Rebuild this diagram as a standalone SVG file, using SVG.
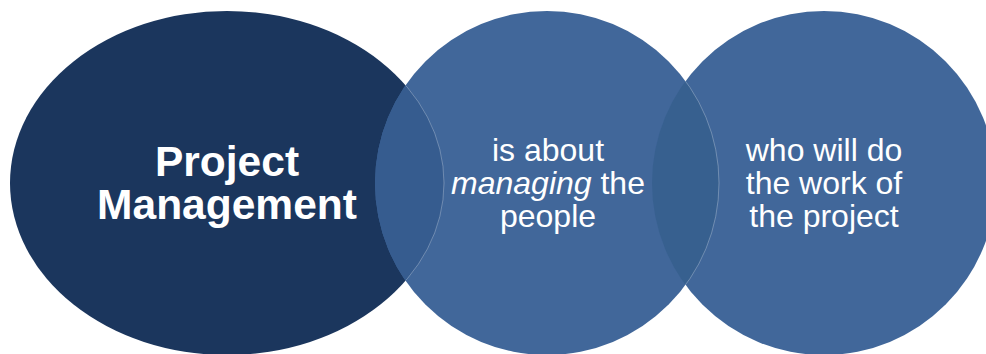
<svg xmlns="http://www.w3.org/2000/svg" width="986" height="354" viewBox="0 0 986 354">
<defs>
<style>
.t{font-family:"Liberation Sans",Arial,sans-serif;fill:#FFFFFF;text-anchor:middle}
.b{font-weight:bold;font-size:42.5px}
.r{font-size:32px}
.c{fill:#41679A}
.edge{fill:none;stroke:#FFFFFF;stroke-opacity:0.35;stroke-width:0.8}
</style>
<clipPath id="clipLeft"><ellipse cx="227" cy="183" rx="217" ry="172"/></clipPath>
<clipPath id="clipMid"><circle cx="547" cy="183" r="172"/></clipPath>
<clipPath id="clipRight"><circle cx="824" cy="183" r="172"/></clipPath>
</defs>
<rect width="986" height="354" fill="#FFFFFF"/>
<g id="node-project-management">
<ellipse cx="227" cy="183" rx="217" ry="172" fill="#1B365D"/>
<text class="t b" x="227" y="176">Project</text>
<text class="t b" x="227" y="219">Management</text>
</g>
<g id="node-managing-people">
<circle class="c" cx="547" cy="183" r="172"/>
<circle cx="547" cy="183" r="172" fill="#365C8F" clip-path="url(#clipLeft)"/>
<ellipse class="edge" cx="227" cy="183" rx="217" ry="172" clip-path="url(#clipMid)"/>
<text class="t r" x="548" y="161">is about</text>
<text class="t r" x="548" y="194"><tspan font-style="italic">managing</tspan> the</text>
<text class="t r" x="548" y="227">people</text>
</g>
<g id="node-work-of-project">
<circle class="c" cx="824" cy="183" r="172"/>
<circle cx="824" cy="183" r="172" fill="#37608F" clip-path="url(#clipMid)"/>
<circle class="edge" cx="547" cy="183" r="172" clip-path="url(#clipRight)"/>
<text class="t r" x="824" y="161">who will do</text>
<text class="t r" x="824" y="194">the work of</text>
<text class="t r" x="824" y="227">the project</text>
</g>
<g id="connectors"/>
</svg>
